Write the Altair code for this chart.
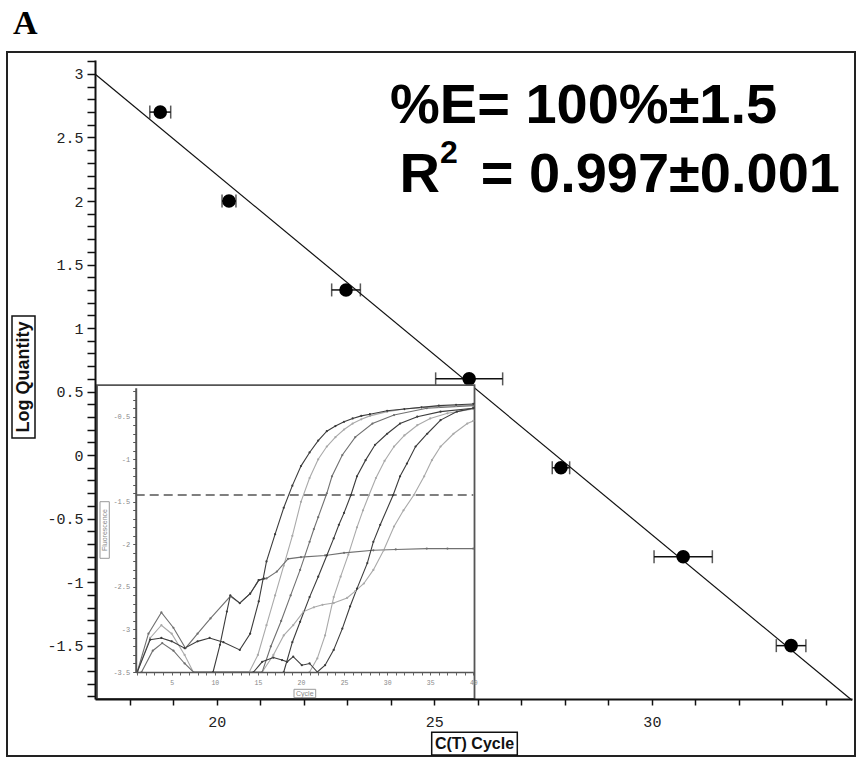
import altair as alt
import pandas as pd

# ---------------- main standard curve data ----------------
ct_mean = [18.70, 20.28, 22.97, 25.80, 27.91, 30.72, 33.20]
log_qty = [2.7, 2.0, 1.3, 0.6, -0.1, -0.8, -1.5]
ct_err = [0.24, 0.16, 0.33, 0.77, 0.20, 0.67, 0.34]

fit_ct = [17.2, 34.6]
fit_logq = [3.0, -1.93]

x_ticks = list(range(18, 35))
y_ticks = [round(-1.9 + 0.1 * i, 1) for i in range(51)]

# ---------------- inset amplification plot data ----------------
c1_x = [1, 2.5, 3.8, 5, 6.5, 8, 9.4, 11, 12.9, 14.1, 15.1, 16, 17, 18, 19, 20, 21, 22, 23, 24, 25, 26, 27, 28, 30, 32, 34, 36, 38, 40]
c1_y = [-3.5, -3.12, -3.10, -3.14, -3.22, -3.14, -3.10, -3.15, -3.24, -3.05, -2.67, -2.2, -1.88, -1.57, -1.31, -1.08, -0.92, -0.78, -0.67, -0.61, -0.56, -0.52, -0.49, -0.47, -0.43, -0.41, -0.39, -0.37, -0.36, -0.35]

cC_x = [9.8, 10.6, 11.4, 11.8, 12.9, 14.1, 15.1, 15.7]
cC_y = [-3.5, -3.18, -2.79, -2.60, -2.69, -2.58, -2.42, -2.40]

cP_x = [1, 2.3, 3.8, 5.2, 6.6, 8, 9.5, 11.8, 12.9, 14.1, 15.1, 16, 17.2, 18.5, 20, 22.8, 25, 28.4, 31, 34.6, 37, 40]
cP_y = [-3.5, -3.05, -2.80, -2.98, -3.22, -3.05, -2.87, -2.61, -2.69, -2.58, -2.42, -2.40, -2.32, -2.17, -2.15, -2.13, -2.10, -2.07, -2.06, -2.05, -2.05, -2.05]

c2_x = [1, 2.5, 3.8, 5, 6.5, 7.5, 14, 15, 16, 17, 18, 19, 20, 21, 22, 23, 24, 25, 26, 27, 28, 30, 32, 34, 36, 38, 40]
c2_y = [-3.5, -3.1, -2.95, -3.05, -3.3, -3.5, -3.5, -3.3, -2.95, -2.6, -2.25, -1.9, -1.5, -1.22, -1.0, -0.85, -0.74, -0.65, -0.58, -0.53, -0.49, -0.44, -0.41, -0.39, -0.38, -0.37, -0.36]

c3_x = [1.5, 2.8, 3.9, 5.2, 6.5, 7.5, 15.5, 16.5, 17.7, 18.8, 19.9, 21, 21.5, 22, 23, 23.6, 24.8, 26.3, 28.3, 30.8, 34.6, 40]
c3_y = [-3.5, -3.25, -3.16, -3.25, -3.4, -3.5, -3.5, -3.2, -2.9, -2.6, -2.3, -1.97, -1.82, -1.68, -1.40, -1.2, -0.95, -0.74, -0.58, -0.48, -0.40, -0.37]

c4_x = [18, 19, 19.9, 21, 22, 23, 23.8, 24.4, 25, 25.8, 26.5, 27.5, 28.6, 30, 31.5, 33.5, 36.2, 40]
c4_y = [-3.5, -3.15, -2.91, -2.62, -2.38, -2.13, -1.93, -1.77, -1.63, -1.42, -1.2, -1.01, -0.83, -0.70, -0.58, -0.50, -0.44, -0.40]

c5_x = [21, 21.9, 22.8, 23.8, 24.6, 25.5, 26.5, 27.2, 27.9, 28.7, 29.7, 30.8, 32, 33.5, 35, 37, 40]
c5_y = [-3.5, -3.34, -3.07, -2.62, -2.38, -2.12, -1.8, -1.6, -1.42, -1.22, -1.02, -0.85, -0.72, -0.6, -0.52, -0.46, -0.41]

c6_x = [14.5, 15.5, 16.8, 17.8, 18.4, 19.1, 20.1, 21, 21.9, 22.8, 23.8, 24.8, 25.7, 26.5, 27.7, 28.4, 29.2, 30.7, 31.5, 32.3, 33.3, 34.65, 36.2, 38.1, 40]
c6_y = [-3.5, -3.38, -3.33, -3.36, -3.38, -3.32, -3.42, -3.4, -3.5, -3.42, -3.24, -2.99, -2.73, -2.52, -2.22, -1.97, -1.77, -1.42, -1.2, -1.05, -0.85, -0.70, -0.54, -0.44, -0.40]

c7_x = [15.5, 16.8, 18, 19.1, 20.3, 21.5, 22.5, 23.8, 25.35, 26.3, 27.3, 28.4, 29.6, 30.8, 31.9, 33.1, 34.3, 35.2, 36.2, 37.7, 39.3, 40]
c7_y = [-3.5, -3.3, -3.07, -2.95, -2.79, -2.74, -2.71, -2.69, -2.63, -2.55, -2.46, -2.30, -2.07, -1.79, -1.60, -1.42, -1.2, -1.01, -0.85, -0.70, -0.58, -0.55]

threshold_value = -1.42
threshold_cycles = [0.82, 40]

inset_x_ticks = list(range(1, 41))
inset_y_ticks = [round(-3.5 + 0.1 * i, 1) for i in range(34)]

inset_frame_x = [-3.67, 40.14]
inset_frame_y = [-3.817, -0.128]

# ---------------- styles ----------------
DARK, MID, LIGHT = "#3c3c3c", "#707070", "#a9a9a9"
curves = [
    ("c7", c7_x, c7_y, LIGHT), ("c5", c5_x, c5_y, LIGHT), ("c2", c2_x, c2_y, LIGHT),
    ("c3", c3_x, c3_y, MID), ("cP", cP_x, cP_y, MID),
    ("c4", c4_x, c4_y, DARK), ("c6", c6_x, c6_y, DARK), ("cC", cC_x, cC_y, DARK), ("c1", c1_x, c1_y, DARK),
]
rows = []
for k, (name, xs, ys, col) in enumerate(curves):
    for x, y in zip(xs, ys):
        rows.append({"curve": name, "ord": k, "cycle": x, "value": y, "shade": col})
curve_df = pd.DataFrame(rows)

pts_df = pd.DataFrame({
    "ct": ct_mean, "logq": log_qty,
    "lo": [m - e for m, e in zip(ct_mean, ct_err)],
    "hi": [m + e for m, e in zip(ct_mean, ct_err)],
})
fit_df = pd.DataFrame({"ct": fit_ct, "logq": fit_logq})
thr_df = pd.DataFrame({"cycle": threshold_cycles, "value": [threshold_value] * 2})
frame_df = pd.DataFrame({"cycle": [inset_frame_x[0]], "cycle2": [inset_frame_x[1]],
                         "value": [inset_frame_y[0]], "value2": [inset_frame_y[1]]})
one = pd.DataFrame({"k": [0]})

# ---------------- scales / axes ----------------
X_MAIN = alt.Scale(domain=[17.2, 34.6], range=[88, 845], nice=False, zero=False)
Y_MAIN = alt.Scale(domain=[-1.92, 3.11], range=[647, 8], nice=False, zero=False)
AX_X = alt.Axis(orient="bottom", offset=-57, values=x_ticks,
                labelExpr="datum.value % 5 == 0 ? format(datum.value, 'd') : ''",
                tickSize=6, tickWidth=1.5, tickColor="#111", domainColor="#111", domainWidth=2,
                labelFont="Liberation Mono", labelFontSize=15, labelColor="#222", labelPadding=9,
                title=None, grid=False, zindex=1, labelOverlap=False, labelFlush=False)
AX_Y = alt.Axis(orient="left", offset=-88, values=y_ticks,
                labelExpr="abs(datum.value*2 - round(datum.value*2)) < 0.001 ? replace(format(datum.value, '~g'), '\u2212', '-') : ''",
                tickSize=8, tickWidth=1.5, tickColor="#111", domainColor="#111", domainWidth=2,
                labelFont="Liberation Mono", labelFontSize=15, labelColor="#222", labelPadding=4,
                title=None, grid=False, zindex=1, labelOverlap=False, labelFlush=False)

X_IN = alt.Scale(domain=[0.82, 40], range=[128.7, 466.3], nice=False, zero=False)
Y_IN = alt.Scale(domain=[-3.5, -0.16], range=[620, 335.8], nice=False, zero=False)
AX_XI = alt.Axis(orient="bottom", offset=-84, values=inset_x_ticks,
                 labelExpr="datum.value % 5 == 0 ? format(datum.value, 'd') : ''",
                 tickSize=3, tickWidth=1, tickColor="#666", domainColor="#555", domainWidth=1.5,
                 labelFont="Liberation Mono", labelFontSize=6.5, labelColor="#888", labelPadding=4,
                 title=None, grid=False, zindex=1, labelOverlap=False, labelFlush=False)
AX_YI = alt.Axis(orient="left", offset=-128.7, values=inset_y_ticks,
                 labelExpr="abs(datum.value*2 - round(datum.value*2)) < 0.001 ? replace(format(datum.value, '~g'), '\u2212', '-') : ''",
                 tickSize=3, tickWidth=1, tickColor="#555", domainColor="#555", domainWidth=2,
                 labelFont="Liberation Mono", labelFontSize=7, labelColor="#888", labelPadding=3,
                 title=None, grid=False, zindex=1, labelOverlap=False, labelFlush=False)

# ---------------- main layers ----------------
fit = alt.Chart(fit_df).mark_line(color="#111", strokeWidth=1.2).encode(
    x=alt.X("ct:Q", scale=X_MAIN, axis=AX_X), y=alt.Y("logq:Q", scale=Y_MAIN, axis=AX_Y))
ebar = alt.Chart(pts_df).mark_rule(color="#111", strokeWidth=1.5).encode(
    x=alt.X("lo:Q", scale=X_MAIN, axis=AX_X), x2="hi:Q", y=alt.Y("logq:Q", scale=Y_MAIN, axis=AX_Y))
cap_lo = alt.Chart(pts_df).mark_tick(color="#111", thickness=1.5, size=13, orient="vertical").encode(
    x=alt.X("lo:Q", scale=X_MAIN, axis=AX_X), y=alt.Y("logq:Q", scale=Y_MAIN, axis=AX_Y))
cap_hi = alt.Chart(pts_df).mark_tick(color="#111", thickness=1.5, size=13, orient="vertical").encode(
    x=alt.X("hi:Q", scale=X_MAIN, axis=AX_X), y=alt.Y("logq:Q", scale=Y_MAIN, axis=AX_Y))
dots = alt.Chart(pts_df).mark_circle(color="#000", size=185, opacity=1).encode(
    x=alt.X("ct:Q", scale=X_MAIN, axis=AX_X), y=alt.Y("logq:Q", scale=Y_MAIN, axis=AX_Y))
main = alt.layer(fit, ebar, cap_lo, cap_hi, dots)

# ---------------- inset layers ----------------
frame = alt.Chart(frame_df).mark_rect(fill="white", stroke="#555", strokeWidth=1.8).encode(
    x=alt.X("cycle:Q", scale=X_IN, axis=AX_XI), x2="cycle2:Q",
    y=alt.Y("value:Q", scale=Y_IN, axis=AX_YI), y2="value2:Q")
thr = alt.Chart(thr_df).mark_line(color="#555", strokeWidth=1.3, strokeDash=[9, 5]).encode(
    x=alt.X("cycle:Q", scale=X_IN, axis=AX_XI), y=alt.Y("value:Q", scale=Y_IN, axis=AX_YI))
amp = alt.Chart(curve_df).mark_line(strokeWidth=1.1, point=alt.OverlayMarkDef(filled=True, size=5)).encode(
    x=alt.X("cycle:Q", scale=X_IN, axis=AX_XI), y=alt.Y("value:Q", scale=Y_IN, axis=AX_YI),
    color=alt.Color("shade:N", scale=None), detail="curve:N", order="ord:Q")
inset = alt.layer(frame, thr, amp)

# ---------------- annotations ----------------
def box(x1, x2, y1, y2, stroke, sw):
    return alt.Chart(one).mark_rect(fill="white", stroke=stroke, strokeWidth=sw).encode(
        x=alt.value(x1), x2=alt.value(x2), y=alt.value(y1), y2=alt.value(y2))

def label(text, x, y, size, **kw):
    return alt.Chart(one).mark_text(text=text, fontSize=size, **kw).encode(x=alt.value(x), y=alt.value(y))

annots = [
    box(5, 28, 264, 386, "#111", 1.5),
    label("Log Quantity", 17, 325, 18, angle=270, font="Liberation Sans", fontWeight="bold",
          align="center", baseline="middle", color="#111"),
    box(424.7, 510.3, 680.3, 703, "#111", 1.5),
    label("C(T) Cycle", 467.5, 692, 16, font="Liberation Sans", fontWeight="bold",
          align="center", baseline="middle", color="#111"),
    box(93, 102.3, 449.7, 506.3, "#999", 1),
    label("Fluorescence", 97.7, 478, 7, angle=270, font="Liberation Sans",
          align="center", baseline="middle", color="#888"),
    box(287, 308.7, 637.3, 645.7, "#999", 1),
    label("Cycle", 297.8, 641.7, 7, font="Liberation Sans",
          align="center", baseline="middle", color="#888"),
    label("A", 6, -18, 34, font="Liberation Serif", fontWeight="bold", align="left",
          baseline="alphabetic", color="#000"),
    label("%E= 100%\u00b11.5", 383, 71, 56, font="Liberation Sans", fontWeight="bold",
          align="left", baseline="alphabetic", color="#000"),
    label("R", 433, 140, 56, font="Liberation Sans", fontWeight="bold",
          align="right", baseline="alphabetic", color="#000"),
    label("2", 433, 111, 32, font="Liberation Sans", fontWeight="bold",
          align="left", baseline="alphabetic", color="#000"),
    label("= 0.997\u00b10.001", 833, 140, 56, font="Liberation Sans", fontWeight="bold",
          align="right", baseline="alphabetic", color="#000"),
]

chart = alt.layer(main, inset, *annots).resolve_scale(x="independent", y="independent").properties(
    width=848, height=704,
    autosize=alt.AutoSizeParams(type="none"),
    padding={"left": 7, "top": 52, "right": 7, "bottom": 2},
    background="white",
).configure_view(stroke="#222", strokeWidth=2)

chart.save("out.html", embed_options={"renderer": "svg", "actions": False})
